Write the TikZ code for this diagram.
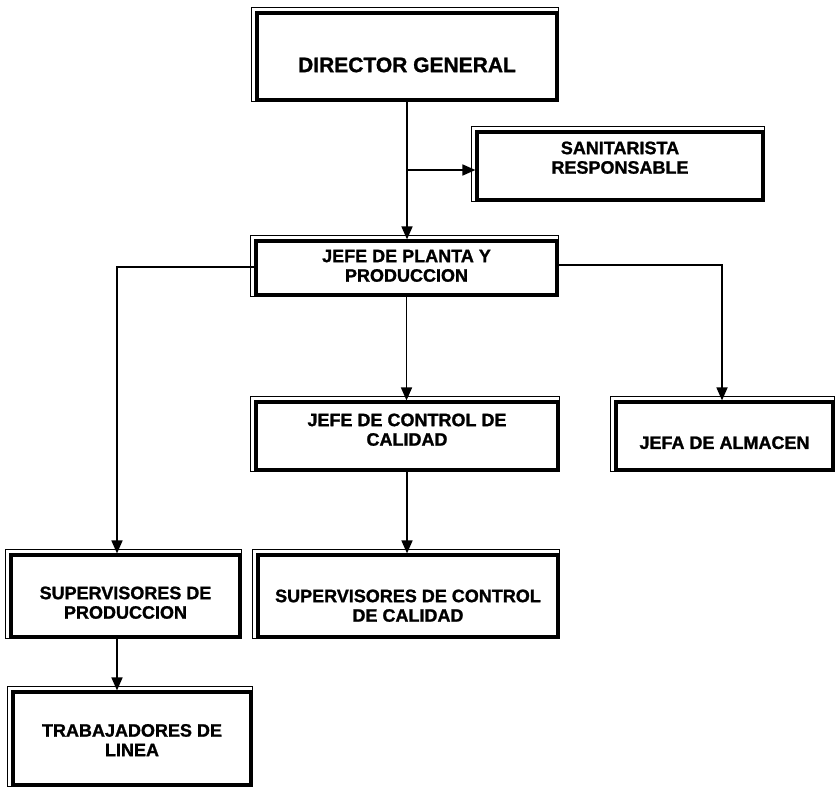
\documentclass[tikz,border=0pt]{standalone}
\usepackage{fontspec}
\setmainfont{Liberation Sans}[BoldFeatures={FakeBold=1.2}]
\usetikzlibrary{arrows.meta}
\newcommand\bxt[2]{\raisebox{#1}[\height][\depth]{\begin{tabular}{@{}c@{}}#2\end{tabular}}}
\renewcommand\arraystretch{0.93}
\begin{document}
\begin{tikzpicture}[x=1pt,y=-1pt,
  orgbox/.style={draw, line width=3.2pt, inner sep=0pt, font=\fontsize{18}{21}\selectfont\bfseries},
  conn/.style={line width=1.7pt, -{Triangle[length=13pt,width=11pt]}}]
\useasboundingbox[fill=white] (0,0) rectangle (837,787);

\node[orgbox, minimum width=300pt, minimum height=87pt, font=\fontsize{21}{25}\selectfont\bfseries] (dir) at (407,56.5) {\bxt{-11pt}{DIRECTOR GENERAL}};
\node[orgbox, minimum width=286pt, minimum height=68pt] (san) at (620,166) {\bxt{6pt}{SANITARISTA\\RESPONSABLE}};
\node[orgbox, minimum width=301pt, minimum height=54pt] (jp) at (406.5,268) {\bxt{0pt}{JEFE DE PLANTA Y\\PRODUCCION}};
\node[orgbox, minimum width=302pt, minimum height=68pt] (jc) at (407,436) {\bxt{4pt}{JEFE DE CONTROL DE\\CALIDAD}};
\node[orgbox, minimum width=217pt, minimum height=68pt] (ja) at (724.5,436) {\bxt{-9pt}{JEFA DE ALMACEN}};
\node[orgbox, minimum width=229pt, minimum height=82pt] (sp) at (125.5,596) {\bxt{-9pt}{SUPERVISORES DE\\PRODUCCION}};
\node[orgbox, minimum width=300pt, minimum height=82pt] (sc) at (408,596) {\bxt{-12pt}{SUPERVISORES DE CONTROL\\DE CALIDAD}};
\node[orgbox, minimum width=238pt, minimum height=93pt] (tr) at (132,738.5) {\bxt{-4pt}{TRABAJADORES DE\\LINEA}};

\foreach \n in {dir,san,jp,jc,ja,sp,sc,tr}
  \draw[line width=1pt] ([shift={(-4pt,4pt)}]\n.north west) rectangle (\n.south east);

\coordinate (br) at (407,170);
\coordinate (lt) at (117,267);
\coordinate (rt) at (722,265);
\coordinate (tl) at (117,0);

\draw[conn] (dir.south) -- (dir.south |- jp.north);
\draw[conn] (br) -- (br -| san.west);
\draw[conn] (jp.south) -- (jp.south |- jc.north);
\draw[conn] (jc.south) -- (jc.south |- sc.north);
\draw[conn] (jp.west |- lt) -| (lt |- sp.north);
\draw[conn] (jp.east |- rt) -| (rt |- ja.north);
\draw[conn] (sp.south -| tl) -- (tl |- tr.north);
\end{tikzpicture}
\end{document}
